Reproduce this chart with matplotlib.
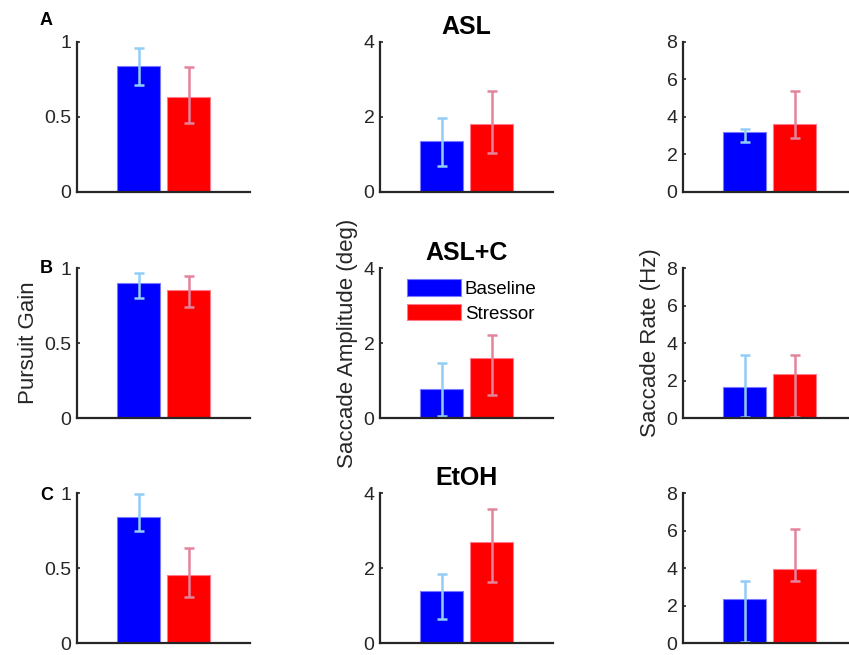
import matplotlib
matplotlib.use("Agg")
import matplotlib.pyplot as plt
import numpy as np

plt.rcParams['font.family'] = ['Liberation Sans', 'DejaVu Sans']

conditions = ['ASL', 'ASL+C', 'EtOH']
panel_letters = ['A', 'B', 'C']
groups = ['Baseline', 'Stressor']

# pursuit gain: mean, lower bound, upper bound of error bar
gain_baseline = [0.84, 0.90, 0.84]
gain_baseline_lo = [0.71, 0.80, 0.745]
gain_baseline_hi = [0.96, 0.965, 0.995]
gain_stressor = [0.635, 0.855, 0.455]
gain_stressor_lo = [0.46, 0.74, 0.31]
gain_stressor_hi = [0.83, 0.95, 0.635]

# saccade amplitude (deg)
amp_baseline = [1.37, 0.77, 1.40]
amp_baseline_lo = [0.69, 0.06, 0.65]
amp_baseline_hi = [1.96, 1.48, 1.85]
amp_stressor = [1.82, 1.59, 2.69]
amp_stressor_lo = [1.05, 0.61, 1.64]
amp_stressor_hi = [2.69, 2.22, 3.58]

# saccade rate (Hz)
rate_baseline = [3.18, 1.65, 2.33]
rate_baseline_lo = [2.68, 0.06, 0.08]
rate_baseline_hi = [3.36, 3.35, 3.31]
rate_stressor = [3.61, 2.35, 3.93]
rate_stressor_lo = [2.90, 0.06, 3.31]
rate_stressor_hi = [5.40, 3.35, 6.08]

measures = [
    ('Pursuit Gain', [0, 0.5, 1], ['0', '0.5', '1'],
     (gain_baseline, gain_baseline_lo, gain_baseline_hi),
     (gain_stressor, gain_stressor_lo, gain_stressor_hi)),
    ('Saccade Amplitude (deg)', [0, 2, 4], ['0', '2', '4'],
     (amp_baseline, amp_baseline_lo, amp_baseline_hi),
     (amp_stressor, amp_stressor_lo, amp_stressor_hi)),
    ('Saccade Rate (Hz)', [0, 2, 4, 6, 8], ['0', '2', '4', '6', '8'],
     (rate_baseline, rate_baseline_lo, rate_baseline_hi),
     (rate_stressor, rate_stressor_lo, rate_stressor_hi)),
]

bar_colors = ['#0000ff', '#ff0000']
edge_colors = ['#7a7aff', '#ff7a8a']
err_colors = ['#92cdf6', '#e2849c']
axis_color = '#262626'

fig = plt.figure(figsize=(8.49, 6.55), dpi=100)

col_left = [0.0907, 0.4476, 0.8045]
row_bottom = [0.7069, 0.3618, 0.0183]
ax_w, ax_h = 0.2038, 0.229
letter_y = [1.14, 1.0, 0.985]

xpos = np.array([-0.5, 0.5])

for r, cond in enumerate(conditions):
    for c, (label, ticks, ticklabels, base, stress) in enumerate(measures):
        ax = fig.add_axes([col_left[c], row_bottom[r], ax_w, ax_h])
        for g, series in enumerate([base, stress]):
            mean, lo, hi = series[0][r], series[1][r], series[2][r]
            ax.bar(xpos[g], mean, width=0.86, color=bar_colors[g],
                   edgecolor=edge_colors[g], linewidth=0.8, zorder=2,
                   label=groups[g])
            ax.errorbar(xpos[g], mean, yerr=[[mean - lo], [hi - mean]],
                        fmt='none', ecolor=err_colors[g], elinewidth=1.8,
                        capsize=3.5, capthick=1.8, zorder=3)
        ax.set_xlim(-1.73, 1.73)
        ax.set_ylim(ticks[0], ticks[-1])
        ax.set_yticks(ticks)
        ax.set_yticklabels(ticklabels)
        ax.set_xticks([])
        ax.tick_params(axis='y', direction='in', length=2.5, width=1.2,
                       colors=axis_color, labelsize=14, pad=4)
        for s in ['top', 'right']:
            ax.spines[s].set_visible(False)
        for s in ['left', 'bottom']:
            ax.spines[s].set_linewidth(1.6)
            ax.spines[s].set_color(axis_color)
            ax.spines[s].set_zorder(4)
        ax.set_facecolor('none')

        if c == 1:
            ax.set_title(cond, fontsize=18, fontweight='bold', pad=6)
        if c == 0:
            ax.text(-0.14, letter_y[r], panel_letters[r], transform=ax.transAxes,
                    ha='right', va='center', fontsize=13, fontweight='bold')
        if r == 1:
            ax.set_ylabel(label, fontsize=16, color=axis_color, labelpad=4)
        if r == 1 and c == 1:
            ax.legend(loc='upper left', bbox_to_anchor=(0.155, 0.925),
                      frameon=False, fontsize=13.5, handlelength=2.9,
                      handleheight=1.0, labelspacing=0.3, handletextpad=0.2,
                      borderpad=0, borderaxespad=0)

fig.savefig('out.png', dpi=100)
